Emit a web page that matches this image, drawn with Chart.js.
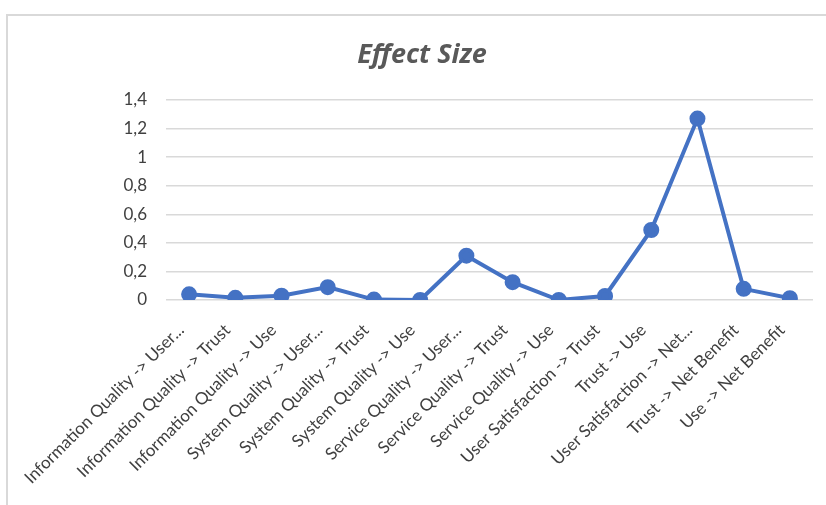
<!DOCTYPE html>
<html>
<head>
<meta charset="utf-8">
<script src="https://cdn.jsdelivr.net/npm/chart.js@4"></script>
<style>
  html, body { margin: 0; padding: 0; background: #fff; }
  body { width: 826px; height: 505px; overflow: hidden; position: relative; }
  #cadre { position: absolute; left: 6px; top: 14px; width: 900px; height: 600px;
           border: 2px solid #d9d9d9; box-sizing: border-box; }
  #zone { position: absolute; left: 0; top: 0; width: 826px; height: 505px; }
  #titre { position: absolute; left: 222px; width: 400px; top: 34px; text-align: center;
           font: italic bold 27px 'Open Sans', sans-serif; color: #595959; }
</style>
</head>
<body>
<div id="cadre"></div>
<div id="zone"><canvas id="myChart" width="826" height="505"></canvas></div>
<div id="titre">Effect Size</div>
<script>
// --- Données ---
const categories = [
  "Information Quality -> User...",
  "Information Quality -> Trust",
  "Information Quality -> Use",
  "System Quality -> User...",
  "System Quality -> Trust",
  "System Quality -> Use",
  "Service Quality -> User...",
  "Service Quality -> Trust",
  "Service Quality -> Use",
  "User Satisfaction -> Trust",
  "Trust -> Use",
  "User Satisfaction -> Net...",
  "Trust -> Net Benefit",
  "Use -> Net Benefit"
];
const effectSize = [0.04, 0.015, 0.03, 0.09, 0.003, 0.0, 0.31, 0.125, 0.0, 0.028, 0.49, 1.27, 0.078, 0.013];
const yMin = 0;
const yMax = 1.4;
const yStep = 0.2;

const bleu = '#4472C4';
const gris = '#d9d9d9';

let ctx = document.getElementById("myChart").getContext("2d");
let myChartInstance = new Chart(ctx, {
  type: 'line',
  data: {
    labels: categories,
    datasets: [{
      label: 'Effect Size',
      data: effectSize,
      borderColor: bleu,
      backgroundColor: bleu,
      borderWidth: 4,
      pointRadius: 6,
      pointBackgroundColor: bleu,
      pointBorderColor: bleu,
      tension: 0,
      fill: false
    }]
  },
  options: {
    responsive: false,
    animation: false,
    // le titre est un div HTML centré sur le cadre (comme Excel)
    layout: { padding: { left: 0, right: 13, top: 100, bottom: 0 } },
    plugins: {
      legend: { display: false },
      tooltip: { enabled: false },
      title: { display: false }
    },
    scales: {
      x: {
        offset: true,
        grid: { display: false },
        border: { display: false },
        afterFit: s => { s.height = 205; },
        ticks: {
          color: '#404040',
          font: { family: 'Lato', size: 17 },
          minRotation: 45,
          maxRotation: 45,
          autoSkip: false,
          labelOffset: -8,
          padding: 12
        }
      },
      y: {
        min: yMin,
        max: yMax,
        border: { display: false },
        grid: { color: gris, lineWidth: 1.5, drawTicks: false },
        afterFit: s => { s.width = 166; },
        ticks: {
          stepSize: yStep,
          color: '#404040',
          font: { family: 'Lato', size: 17 },
          padding: 19,
          callback: v => (Math.round(v * 10) / 10).toString().replace('.', ',')
        }
      }
    }
  }
});
</script>
</body>
</html>
